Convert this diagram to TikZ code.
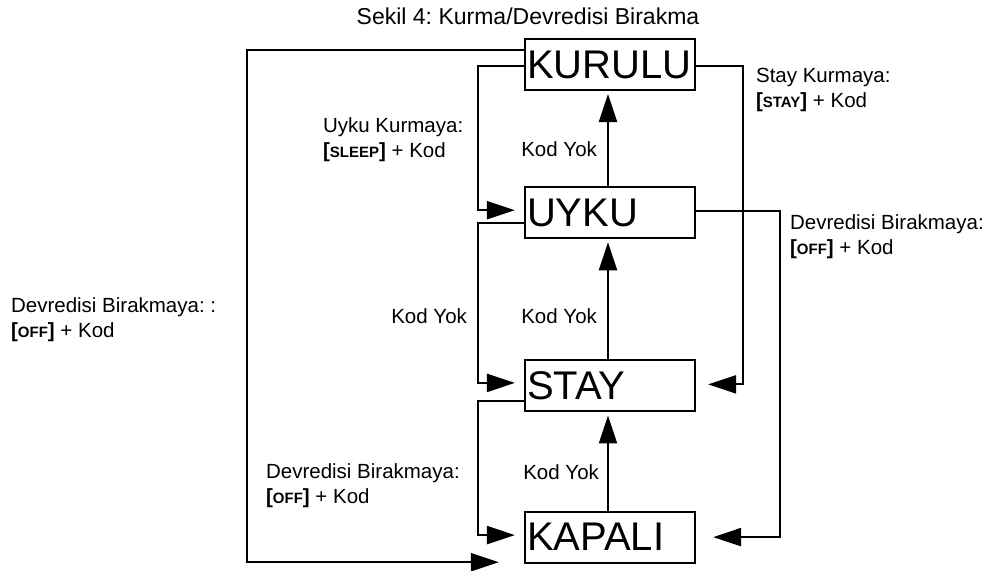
\documentclass[tikz,border=0pt]{standalone}
\usepackage{fontspec}
\setmainfont{Liberation Sans}
\usetikzlibrary{
  positioning,
  arrows.meta
}
\frenchspacing
\newcommand{\keyname}[1]{\textbf{[}{\fontsize{15}{15}\selectfont\bfseries #1}\textbf{]}}
\tikzset{
  >={Triangle[length=28pt,width=18pt]},
  statebox/.style={draw, rectangle, minimum height=51pt, text width=166pt,
    inner xsep=2pt, inner ysep=0pt, align=left, font=\fontsize{40}{40}\selectfont},
  lbl/.style={font=\fontsize{20.5}{25}\selectfont, align=left, inner sep=0pt}
}

\begin{document}
\begin{tikzpicture}[x=1pt, y=1pt, line width=2.2pt, ->]
    \useasboundingbox (0,0) rectangle (992,570);
    \node[inner sep=0pt, anchor=base, font=\fontsize{23}{23}\selectfont] (title) at (528,545) {Sekil 4: Kurma/Devredisi Birakma};

    \node[statebox]                       (kurulu) at (610,505.5) {KURULU};
    \node[statebox, below=95pt of kurulu]  (uyku)   {UYKU};
    \node[statebox, below=120pt of uyku]   (stay)   {STAY};
    \node[statebox, below=98pt of stay]    (kapali) {KAPALI};

    % Kod Yok, straight up
    \draw ([xshift=-2pt]kapali.north) -- ([xshift=-2pt,yshift=-3pt]stay.south);
    \draw ([xshift=-2pt]stay.north) -- ([xshift=-2pt,yshift=-3pt]uyku.south);
    \draw ([xshift=-2pt]uyku.north) -- ([xshift=-2pt,yshift=-3pt]kurulu.south);

    % left loops
    \draw ([yshift=-1.5pt]kurulu.west) -- ++(-46pt,0) |- ([xshift=-9pt,yshift=2.5pt]uyku.west);
    \draw ([yshift=-10pt]uyku.west) -- ++(-46pt,0) |- ([xshift=-9pt,yshift=3pt]stay.west);
    \draw ([yshift=-15.5pt]stay.west) -- ++(-46pt,0) |- ([xshift=-9pt,yshift=2pt]kapali.west);
    \draw ([yshift=14.5pt]kurulu.west) -- ++(-277pt,0) |- ([xshift=-25pt,yshift=1.5pt]kapali.south west);

    % right loops
    \draw ([yshift=-1.5pt]kurulu.east) -- ++(47pt,0) |- ([xshift=12pt,yshift=1.5pt]stay.east);
    \draw ([yshift=1.5pt]uyku.east) -- ++(84pt,0) |- ([xshift=17pt]kapali.east);

    \node[lbl, anchor=base west] (sleeplbl) at (322,412) {Uyku Kurmaya:\\\keyname{SLEEP} + Kod};
    \node[lbl, anchor=base east] (nocode1)  at (598,413) {Kod Yok};
    \node[lbl, anchor=base east] (nocode2)  at (468,246) {Kod Yok};
    \node[lbl, anchor=base east] (nocode3)  at (598,246) {Kod Yok};
    \node[lbl, anchor=base east] (nocode4)  at (600,91)  {Kod Yok};
    \node[lbl, anchor=base west] (offlbl1)  at (265,67)  {Devredisi Birakmaya:\\\keyname{OFF} + Kod};
    \node[lbl, anchor=base west] (offlbl2)  at (10,232)  {Devredisi Birakmaya: :\\\keyname{OFF} + Kod};
    \node[lbl, anchor=base west] (staylbl)  at (755,462) {Stay Kurmaya:\\\keyname{STAY} + Kod};
    \node[lbl, anchor=base west] (offlbl3)  at (789,315) {Devredisi Birakmaya:\\\keyname{OFF} + Kod};
\end{tikzpicture}
\end{document}
